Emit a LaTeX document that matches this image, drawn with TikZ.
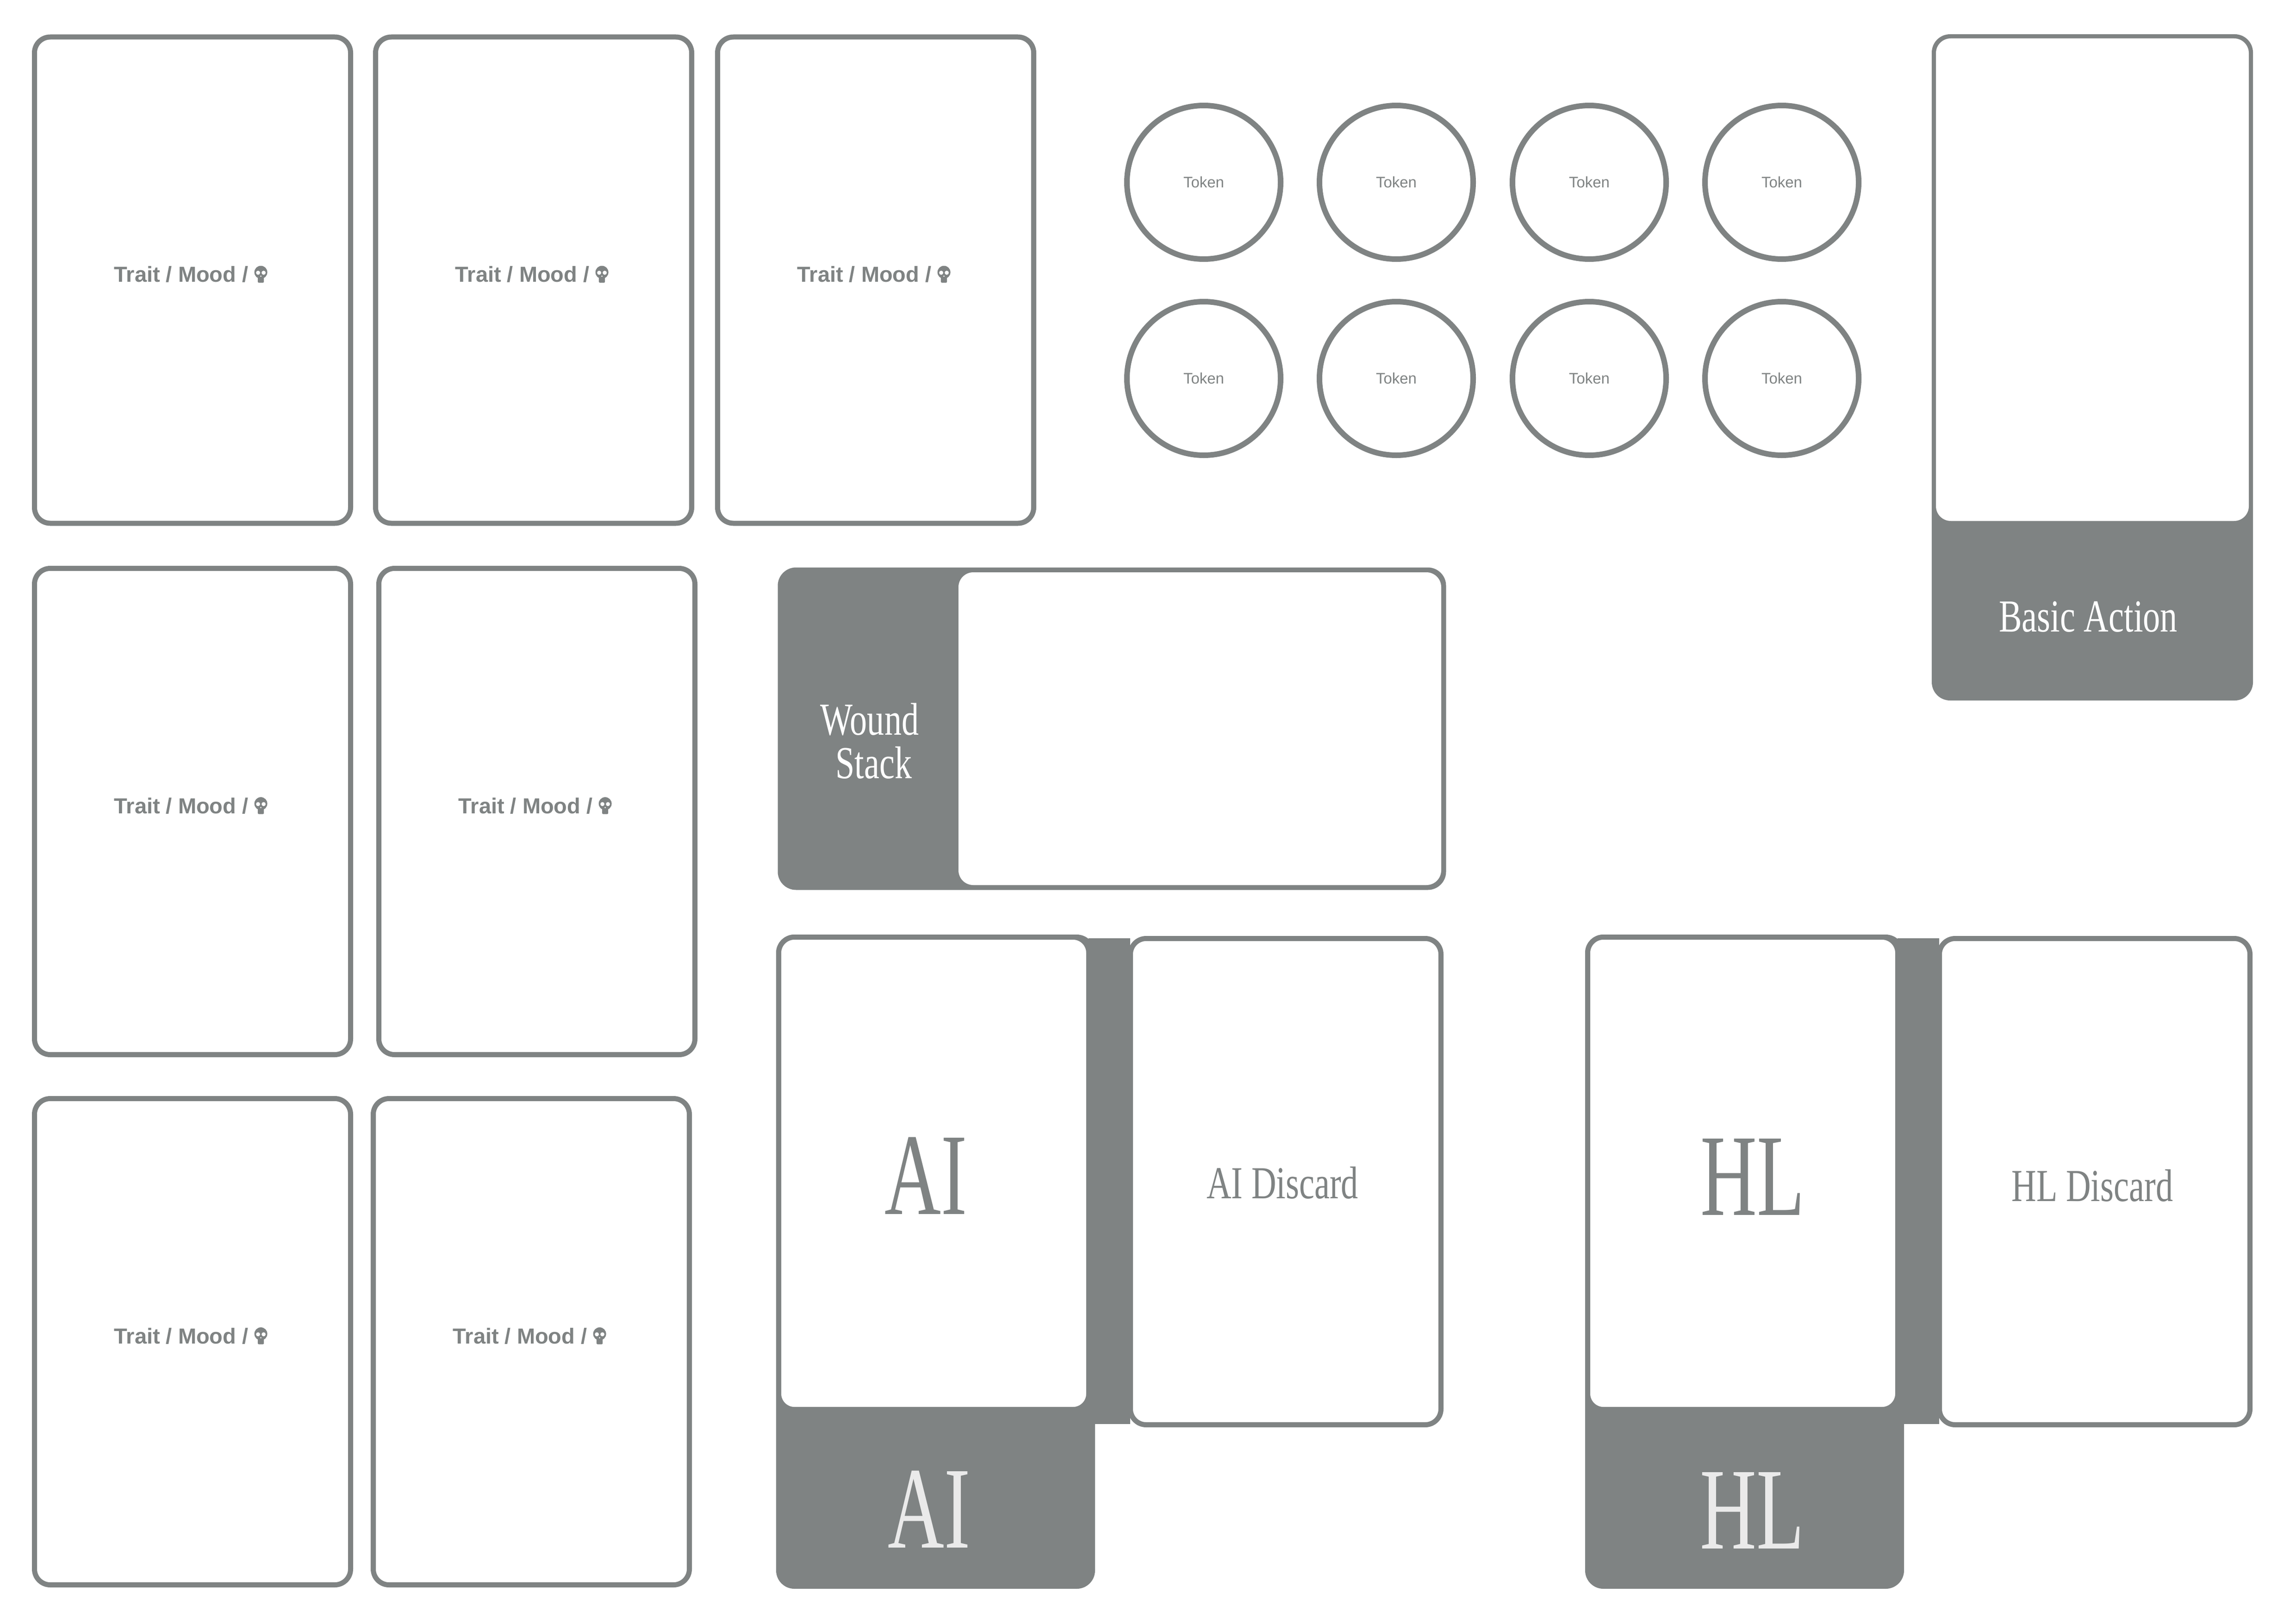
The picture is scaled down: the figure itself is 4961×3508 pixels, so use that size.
\documentclass[tikz,border=0pt]{standalone}
\usepackage{fontspec}
\setmainfont{Liberation Serif}
\newfontfamily\sansf{Liberation Sans}
\newfontfamily\condserif[FakeStretch=0.75]{Liberation Serif}
\newfontfamily\bigserif[FakeStretch=0.67]{Liberation Serif}
\definecolor{cg}{RGB}{127,131,131}
\definecolor{paletxt}{RGB}{234,234,234}
\tikzset{
  card/.style={draw=cg, line width=11pt, fill=white, rounded corners=34pt, inner sep=0pt, outer sep=0pt, minimum width=683pt, minimum height=1051pt},
  traittext/.style={text=cg, font=\sansf\bfseries\fontsize{47}{50}\selectfont, anchor=base, inner sep=0pt},
  token/.style={circle, draw=cg, line width=12pt, minimum size=332pt, inner sep=0pt, text=cg, font=\sansf\fontsize{33}{35}\selectfont},
  darkbase/.style={fill=cg, draw=cg, line width=11pt, rounded corners=34pt, inner sep=0pt, outer sep=0pt},
  whiteslot/.style={fill=white, rounded corners=32pt, inner sep=0pt, outer sep=0pt},
  strip/.style={fill=cg, inner sep=0pt, outer sep=0pt},
  lbl/.style={anchor=base, inner sep=0pt, font=\condserif\fontsize{99}{94}\selectfont},
  biglbl/.style={anchor=base, inner sep=0pt, font=\bigserif\fontsize{252}{252}\selectfont},
  skullpic/.pic={
    \fill[cg] (0,-21) circle[radius=14pt];
    \fill[cg, rounded corners=2pt] (-6.5,-12) rectangle (6.5,1.5);
    \fill[white] (-6,-20) circle[radius=4.4pt] (6,-20) circle[radius=4.4pt];
    \fill[white] (0,-12.5) circle[radius=1.5pt];
  },
}
\begin{document}
\begin{tikzpicture}[x=1pt,y=-1pt]
\fill[white] (0,0) rectangle (4961,3508);
\useasboundingbox (0,0) rectangle (4961,3508);

% Trait / Mood cards
\foreach \n/\x/\y in {t1/416/605.5, t2/1153/605.5, t3/1892/605.5, t4/416/1754, t5/1160/1754, t6/416/2900, t7/1148/2900}{
  \node[card] (\n) at (\x,\y) {};
  \node[traittext] (\n-txt) at ([xshift=-4pt,yshift=-4pt]\n.center) {Trait / Mood /\rule{41pt}{0pt}};
  \pic at ([xshift=-14pt]\n-txt.base east) {skullpic};
}

% Tokens
\foreach \i/\x in {1/2601, 2/3017, 3/3434, 4/3850}{
  \node[token] (ka\i) at (\x,394) {Token};
  \node[token] (kb\i) at (\x,818) {Token};
}

% Basic Action
\node[darkbase, minimum width=683pt, minimum height=1429pt] (basic) at (4521,794) {};
\node[whiteslot, minimum width=676pt, minimum height=1043pt] (basicwhite) at (4521,604.5) {};
\node[lbl, text=white] (basiclbl) at (4512,1365) {Basic Action};

% Wound Stack
\node[darkbase, minimum width=1433pt, minimum height=686pt] (wound) at (2402.5,1575) {};
\node[whiteslot, minimum width=1043pt, minimum height=676pt] (woundslot) at (2592.5,1575) {};
\node[lbl, text=white] (woundlbl1) at (1879,1588) {Wound};
\node[lbl, text=white] (woundlbl2) at (1888,1682) {Stack};

% AI group
\node[darkbase, minimum width=678pt, minimum height=1403pt] (aibase) at (2021.5,2727) {};
\node[strip, minimum width=90pt, minimum height=1050pt] (aistrip) at (2397,2553) {};
\node[card, minimum width=670pt, minimum height=1021pt] (aicard) at (2017.5,2536) {};
\node[card, minimum width=671pt, minimum height=1051pt] (aidisc) at (2778,2554) {};
\node[biglbl, text=cg] (aitop) at (2001,2624) {AI};
\node[biglbl, text=paletxt] (aibot) at (2008,3345) {AI};
\node[lbl, text=cg] (aidisclbl) at (2771,2590) {AI Discard};

% HL group
\node[darkbase, minimum width=678pt, minimum height=1403pt] (hlbase) at (3769.5,2727) {};
\node[strip, minimum width=90pt, minimum height=1050pt] (hlstrip) at (4145,2553) {};
\node[card, minimum width=670pt, minimum height=1021pt] (hlcard) at (3765.5,2536) {};
\node[card, minimum width=671pt, minimum height=1051pt] (hldisc) at (4526,2554) {};
\node[biglbl, text=cg] (hltop) at (3787,2626) {HL};
\node[biglbl, text=paletxt] (hlbot) at (3786,3347) {HL};
\node[lbl, text=cg] (hldisclbl) at (4521,2596) {HL Discard};
\end{tikzpicture}
\end{document}
